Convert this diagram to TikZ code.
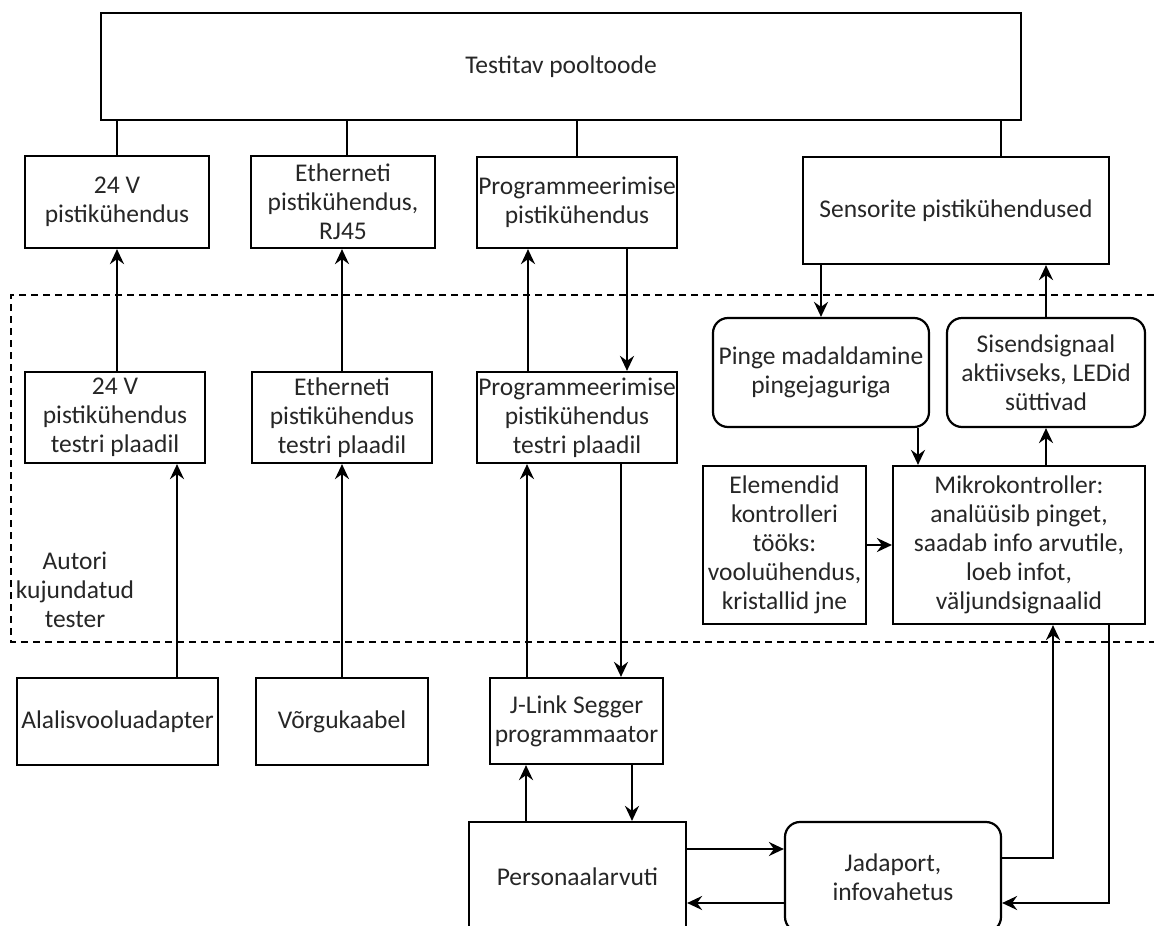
\documentclass[tikz,border=0pt]{standalone}
\usepackage{fontspec}
\setmainfont{Carlito}
\usetikzlibrary{arrows.meta}
\begin{document}
\begin{tikzpicture}[x=1pt,y=-1pt,
  txt/.style={align=center,inner sep=0pt,text=black!85,font=\fontsize{25.5}{29}\selectfont},
  box/.style={txt,draw=black,line width=2.2pt},
  rbox/.style={box,rounded corners=15pt},
  ln/.style={line width=2.2pt},
  arr/.style={line width=2.2pt,-{Stealth[length=15pt,width=14pt,inset=5pt]}}]
\useasboundingbox (0,0) rectangle (1154,926);
\clip (0,0) rectangle (1154,926);
% dashed tester region
\draw[line width=1.8pt,dash pattern=on 7pt off 5pt] (1154,295) -- (11,295) -- (11,642) -- (1154,642);
% nodes
\node[box,minimum width=920pt,minimum height=107pt] (top) at (561,66.5) {Testitav pooltoode};
\node[box,minimum width=184pt,minimum height=92pt] (v24) at (117,202) {24 V\\pistikühendus};
\node[box,minimum width=184pt,minimum height=92pt] (eth) at (343,202) {Etherneti\\pistikühendus,\\RJ45};
\node[box,minimum width=200pt,minimum height=91pt] (prog) at (577,202.5) {Programmeerimise\\pistikühendus};
\node[box,minimum width=306pt,minimum height=107pt] (sens) at (956,210.5) {Sensorite pistikühendused};
\node[box,minimum width=180pt,minimum height=91pt] (v24t) at (115,417.5) {24 V\\pistikühendus\\testri plaadil};
\node[box,minimum width=180pt,minimum height=91pt] (etht) at (342,417.5) {Etherneti\\pistikühendus\\testri plaadil};
\node[box,minimum width=200pt,minimum height=91pt] (progt) at (577,417.5) {Programmeerimise\\pistikühendus\\testri plaadil};
\node[rbox,minimum width=216pt,minimum height=109pt] (pinge) at (821,372.5) {Pinge madaldamine\\pingejaguriga};
\node[rbox,minimum width=198pt,minimum height=109pt] (sisend) at (1046,372.5) {Sisendsignaal\\aktiivseks, LEDid\\süttivad};
\node[box,minimum width=163pt,minimum height=158pt] (elem) at (784.5,545) {Elemendid\\kontrolleri\\tööks:\\vooluühendus,\\kristallid jne};
\node[box,minimum width=252pt,minimum height=158pt] (mikro) at (1019,545) {Mikrokontroller:\\analüüsib pinget,\\saadab info arvutile,\\loeb infot,\\väljundsignaalid};
\node[txt] (autori) at (75,590) {Autori\\kujundatud\\tester};
\node[box,minimum width=201pt,minimum height=87pt] (adapter) at (117.5,721.5) {Alalisvooluadapter};
\node[box,minimum width=172pt,minimum height=87pt] (vork) at (342,721.5) {Võrgukaabel};
\node[box,minimum width=173pt,minimum height=86pt] (jlink) at (576.5,721) {J-Link Segger\\programmaator};
\node[box,minimum width=217pt,minimum height=110pt] (pc) at (577.5,877) {Personaalarvuti};
\node[rbox,minimum width=216pt,minimum height=110pt] (jada) at (893,877) {Jadaport,\\infovahetus};
% top connections
\draw[ln] (top.south -| v24.north) -- (v24.north);
\draw[ln] ([xshift=4pt]eth.north |- top.south) -- ([xshift=4pt]eth.north);
\draw[ln] (top.south -| prog.north) -- (prog.north);
\draw[ln] ([xshift=45pt]sens.north |- top.south) -- ([xshift=45pt]sens.north);
% arrows
\draw[arr] (v24.south |- v24t.north) -- (v24.south);
\draw[arr] (etht.north) -- (etht.north |- eth.south);
\draw[arr] ([xshift=-49pt]progt.north) -- ([xshift=-49pt]prog.south);
\draw[arr] ([xshift=50pt]prog.south) -- ([xshift=50pt]progt.north);
\draw[arr] (pinge.north |- sens.south) -- (pinge.north);
\draw[arr] (sisend.north) -- (sisend.north |- sens.south);
\draw[arr] ([xshift=97pt]pinge.south) -- ([xshift=97pt]pinge.south |- mikro.north);
\draw[arr] (sisend.south |- mikro.north) -- (sisend.south);
\draw[arr] (elem.east) -- (mikro.west);
\draw[arr] ([xshift=59.5pt]adapter.north) -- ([xshift=59.5pt]adapter.north |- v24t.south);
\draw[arr] (vork.north) -- (etht.south);
\draw[arr] ([xshift=-49.5pt]jlink.north) -- ([xshift=-49.5pt]jlink.north |- progt.south);
\draw[arr] ([xshift=44.5pt]jlink.north |- progt.south) -- ([xshift=44.5pt]jlink.north);
\draw[arr] ([xshift=-51.5pt]pc.north) -- ([xshift=-51.5pt]pc.north |- jlink.south);
\draw[arr] ([xshift=54.5pt]pc.north |- jlink.south) -- ([xshift=54.5pt]pc.north);
\draw[arr] ([yshift=28pt]pc.east) -- ([yshift=28pt]pc.east -| jada.west);
\draw[arr] ([yshift=-26pt]jada.west) -- ([yshift=-26pt]jada.west -| pc.east);
\draw[arr] ([yshift=19pt]jada.east) -| ([xshift=34pt]mikro.south);
\draw[arr] ([xshift=90pt]mikro.south) |- ([yshift=-26pt]jada.east);
\end{tikzpicture}
\end{document}
